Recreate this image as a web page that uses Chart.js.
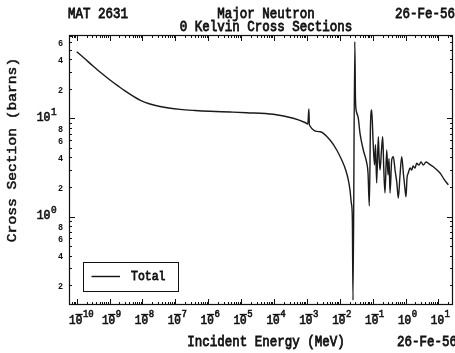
<!DOCTYPE html>
<html><head><meta charset="utf-8">
<script src="https://cdn.jsdelivr.net/npm/chart.js@4"></script>
<style>html,body{margin:0;padding:0;background:#fff}canvas{display:block}</style>
</head><body>
<canvas id="c" width="455" height="353"></canvas>
<script>
// Incident energy (MeV)
const energy = [1.0e-10,1.67e-10,3.13e-10,5.12e-10,1.03e-9,1.80e-9,2.96e-9,8.41e-9,1.69e-8,3.41e-8,1.39e-7,3.98e-7,1.13e-6,4.6e-6,1.48e-5,9.53e-5,3.87e-4,8.77e-4,1.07e-3,1.151e-3,1.193e-3,2.51e-3,5.06e-3,8.09e-3,1.148e-2,1.517e-2,1.82e-2,2.05e-2,2.25e-2,2.41e-2,2.53e-2,2.87e-2,3.01e-2,3.24e-2,3.66e-2,4.13e-2,5.20e-2,6.61e-2,7.24e-2,7.93e-2,8.61e-2,9.37e-2,0.1028,0.114,0.1224,0.1324,0.149,0.158,0.1675,0.186,0.2023,0.218,0.2377,0.268,0.294,0.315,0.338,0.380,0.4256,0.480,0.545,0.604,0.681,0.766,0.869,0.95,1.035,1.11,1.216,1.37,1.54,1.69,1.945,2.19,2.57,2.96,3.48,4.20,4.93,7.00,9.07,11.2,14.8,20.0];
// Total cross section (barns)
const totalXS = [48.0,41.4,34.3,29.8,24.7,21.5,19.1,15.4,14.06,13.26,12.4,12.07,11.85,11.65,11.46,11.04,10.05,9.10,8.79,12.5,8.58,7.33,6.03,4.77,3.77,2.98,2.36,1.86,1.37,0.995,0.14,60.8,15.4,11.65,10.1,7.06,4.77,3.52,2.78,1.28,8.59,12.2,6.03,3.35,5.4,2.20,6.52,3.9,2.98,4.77,6.52,3.1,1.74,4.77,2.65,3.9,1.74,3.77,4.08,2.98,2.2,1.545,2.65,4.08,2.65,2.0,1.59,2.47,2.78,3.12,2.98,3.28,3.12,3.49,3.35,3.60,3.35,3.60,3.49,3.22,2.98,2.78,2.41,2.10];
// Axis ticks
const xTickExps = [-10,-9,-8,-7,-6,-5,-4,-3,-2,-1,0,1];
const yMajorExps = [1,0];
const yMinorLabels = [60,40,20,8,6,4,2,0.8,0.6,0.4,0.2];
const xRange = [Math.pow(10,-10.234), Math.pow(10,1.444)];
const yRange = [Math.pow(10,-0.903), Math.pow(10,1.852)];

const SY = 1.17;
const INK = '#111';
function txt(ctx, s, x, y, font, align, rot, sw) {
  ctx.save();
  ctx.translate(x, y);
  ctx.scale(1, SY);
  if (rot) ctx.rotate(rot);
  ctx.font = font;
  ctx.textAlign = align || 'left';
  ctx.textBaseline = 'middle';
  ctx.fillStyle = INK;
  ctx.fillText(s, 0, 0);
  if (sw) { ctx.strokeStyle = INK; ctx.lineWidth = sw; ctx.strokeText(s, 0, 0); }
  ctx.restore();
}

const framePlugin = {
  id: 'frame',
  afterDraw(chart) {
    const {ctx, chartArea: a, scales: {x, y}} = chart;
    ctx.save();
    ctx.strokeStyle = INK;
    ctx.lineWidth = 1.2;
    ctx.strokeRect(a.left + 0.5, a.top + 0.5, a.right - a.left - 1, a.bottom - a.top - 1);
    ctx.lineWidth = 1;
    ctx.beginPath();
    for (let k = -11; k <= 1; k++) {
      for (let m = 1; m <= 9; m++) {
        const v = m * Math.pow(10, k);
        if (v < xRange[0] || v > xRange[1]) continue;
        const px = Math.round(x.getPixelForValue(v)) + 0.5;
        const len = m === 1 ? 6 : 3;
        ctx.moveTo(px, a.bottom); ctx.lineTo(px, a.bottom - len);
        ctx.moveTo(px, a.top); ctx.lineTo(px, a.top + len);
      }
    }
    for (let k = -1; k <= 1; k++) {
      for (let m = 1; m <= 9; m++) {
        const v = m * Math.pow(10, k);
        if (v < yRange[0] || v > yRange[1]) continue;
        const py = Math.round(y.getPixelForValue(v)) + 0.5;
        const len = m === 1 ? 6 : 3;
        ctx.moveTo(a.left, py); ctx.lineTo(a.left + len, py);
        ctx.moveTo(a.right, py); ctx.lineTo(a.right - len, py);
      }
    }
    ctx.stroke();

    const bf = '11px "Liberation Mono"', sf = '9px "Liberation Mono"';
    xTickExps.forEach(k => {
      const cx = x.getPixelForValue(Math.pow(10, k)) - 1;
      txt(ctx, '10', cx, 321, bf, 'center', 0, 0.6);
      if (k < 0) txt(ctx, '\u00AF', cx + 3.3, 321, bf, 'center', 0, 0.6);
      txt(ctx, String(Math.abs(k)), cx + 7.2, 314.5, sf, 'left', 0, 0.5);
    });
    yMajorExps.forEach(k => {
      const py = y.getPixelForValue(Math.pow(10, k));
      txt(ctx, '10', 50.5, py - 1, '11.5px "Liberation Mono"', 'right', 0, 0.6);
      txt(ctx, String(k), 51, py - 6, '9.5px "Liberation Mono"', 'left', 0, 0.5);
    });
    yMinorLabels.forEach(v => {
      const py = y.getPixelForValue(v);
      const d = String(Math.round(v / Math.pow(10, Math.floor(Math.log10(v) + 1e-9))));
      txt(ctx, d, 60.5, py + 1, 'bold 8.5px "Liberation Mono"', 'center');
    });

    const tf = '12.5px "Liberation Mono"';
    const tw = 0.7;
    txt(ctx, 'MAT 2631', 68, 14, tf, 'left', 0, tw);
    txt(ctx, 'Major Neutron', 266, 14, tf, 'center', 0, tw);
    txt(ctx, '0 Kelvin Cross Sections', 266, 27, tf, 'center', 0, tw);
    txt(ctx, '26-Fe-56', 395, 14, tf, 'left', 0, tw);
    txt(ctx, 'Incident Energy (MeV)', 266, 342, tf, 'center', 0, tw);
    txt(ctx, '26-Fe-56', 397, 342, tf, 'left', 0, tw);
    txt(ctx, 'Cross Section (barns)', 12.5, 150, tf, 'center', -Math.PI / 2, 0.5);

    ctx.lineWidth = 1;
    ctx.strokeRect(83.5, 262.5, 95, 29);
    ctx.lineWidth = 1.4;
    ctx.beginPath();
    ctx.moveTo(91.5, 276.5); ctx.lineTo(120, 276.5);
    ctx.stroke();
    txt(ctx, chart.data.datasets[0].label, 131, 276.5, '11.5px "Liberation Mono"', 'left', 0, 0.7);
    ctx.restore();
  }
};

new Chart(document.getElementById('c'), {
  type: 'line',
  data: {
    datasets: [{
      label: 'Total',
      data: energy.map((e, i) => ({x: e, y: totalXS[i]})),
      borderColor: '#1a1a1a',
      borderWidth: 1.4,
      pointRadius: 0,
      fill: false,
      cubicInterpolationMode: 'monotone'
    }]
  },
  options: {
    responsive: false,
    animation: false,
    devicePixelRatio: 1,
    layout: {padding: {left: 69, right: 2, top: 35, bottom: 48}},
    plugins: {legend: {display: false}, tooltip: {enabled: false}, title: {display: false}},
    scales: {
      x: {type: 'logarithmic', min: xRange[0], max: xRange[1], display: false},
      y: {type: 'logarithmic', min: yRange[0], max: yRange[1], display: false}
    }
  },
  plugins: [framePlugin]
});
</script>
</body></html>
